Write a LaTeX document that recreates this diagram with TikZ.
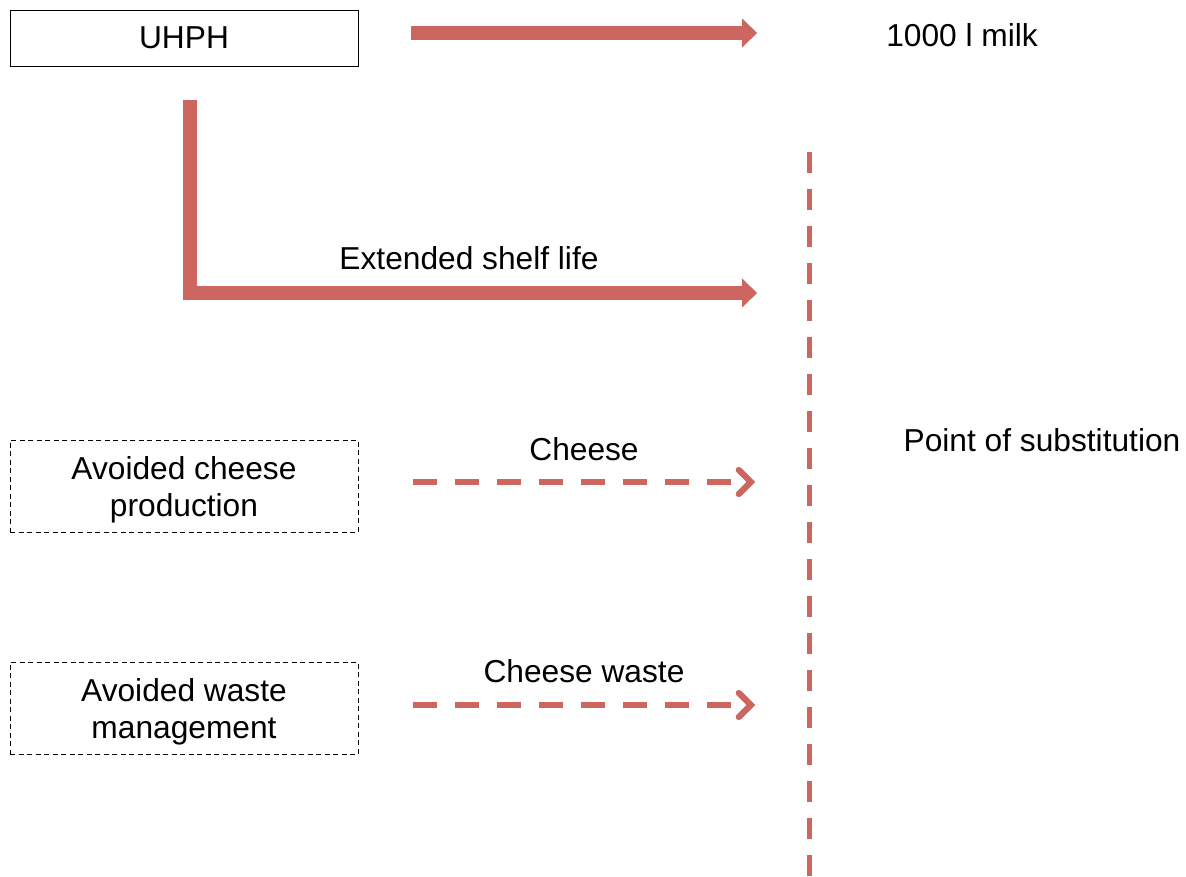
\documentclass[tikz,border=0pt]{standalone}
\usepackage{fontspec}
\setmainfont{Liberation Sans}
\usetikzlibrary{arrows.meta}
\definecolor{arrred}{RGB}{205,102,94}
\begin{document}
\begin{tikzpicture}[x=1pt,y=-1pt,
  txt/.style={font=\fontsize{31.7}{37}\selectfont, inner sep=0pt, align=center},
  solidbox/.style={draw=black, line width=0.8pt, minimum width=348pt, minimum height=56pt, inner sep=0pt},
  dashbox/.style={draw=black, line width=0.9pt, dash pattern=on 5pt off 3.5pt, minimum width=348pt, minimum height=92pt, inner sep=0pt},
  bigarrow/.style={draw=arrred, line width=14.5pt, line join=miter, -{Triangle[length=15pt,width=28pt]}},
  bigshadow/.style={draw=black, opacity=0.12, line width=14.5pt, line join=miter, -{Triangle[length=15pt,width=28pt]}},
  dasharrow/.style={draw=arrred, line width=6pt, dash pattern=on 24pt off 18pt, -{Straight Barb[length=12pt,width=24pt,line cap=round]}},
  dashshadow/.style={draw=black, opacity=0.12, line width=6pt, dash pattern=on 24pt off 18pt, -{Straight Barb[length=12pt,width=24pt,line cap=round]}},
  subline/.style={draw=arrred, line width=5pt, dash pattern=on 21pt off 16pt},
  subshadow/.style={draw=black, opacity=0.12, line width=5pt, dash pattern=on 21pt off 16pt}
]
\useasboundingbox (0,0) rectangle (1186,877);

% nodes
\node[solidbox, txt] (uhph) at (184,38) {UHPH};
\node[txt] (milk) at (962,35) {1000 l milk};
\node[txt] (shelf) at (469,258) {Extended shelf life};
\node[txt] (pos) at (1042,440) {Point of substitution};
\node[dashbox] (avch) at (184,486) {};
\node[txt] (avchT) at (184,490) {Avoided cheese\\production};
\node[dashbox] (avwm) at (184,708) {};
\node[txt] (avwmT) at (184,712) {Avoided waste\\management};
\node[txt] (chlab) at (584,449) {Cheese};
\node[txt] (cwlab) at (584,671) {Cheese waste};

% coordinates
\coordinate (a1s) at (411,33);
\coordinate (a1e) at (757,33);
\coordinate (a2s) at (190,100);
\coordinate (a2c) at (190,293);
\coordinate (a2e) at (757,293);
\coordinate (a3s) at (413,482);
\coordinate (a3e) at (755,482);
\coordinate (a4s) at (413,705);
\coordinate (a4e) at (755,705);
\coordinate (sTop) at (809,152);
\coordinate (sBot) at (809,877);

% soft shadows
\foreach \dx/\dy in {1/2, 2/3.5, 3/5}{
\begin{scope}[shift={(\dx,\dy)}]
\draw[bigshadow] (a1s) -- (a1e);
\draw[bigshadow] (a2s) -- (a2c) -- (a2e);
\draw[dashshadow] (a3s) -- (a3e);
\draw[dashshadow] (a4s) -- (a4e);
\draw[subshadow] (sTop) -- (sBot);
\end{scope}
}

% arrows
\draw[bigarrow] (a1s) -- (a1e);
\draw[bigarrow] (a2s) -- (a2c) -- (a2e);
\draw[dasharrow] (a3s) -- (a3e);
\draw[dasharrow] (a4s) -- (a4e);
\draw[subline] (sTop) -- (sBot);
\end{tikzpicture}
\end{document}
